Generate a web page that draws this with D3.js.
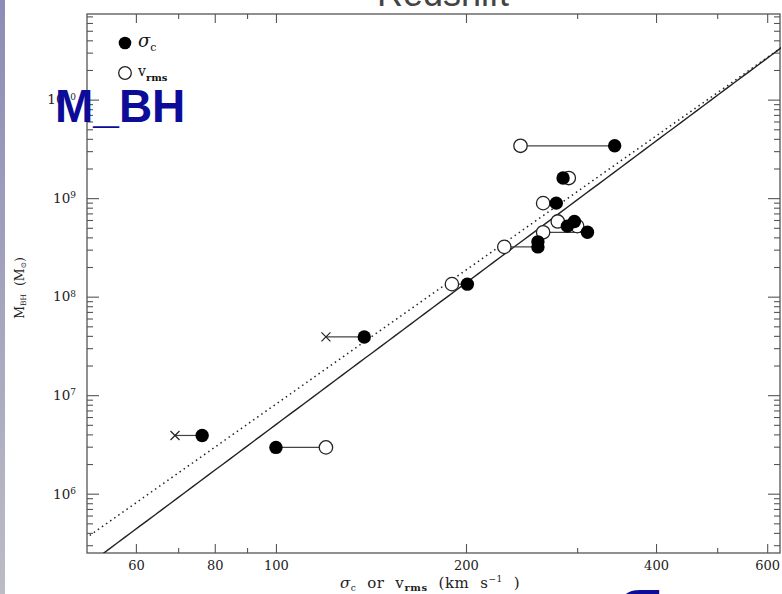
<!DOCTYPE html>
<html>
<head>
<meta charset="utf-8">
<script src="https://cdn.jsdelivr.net/npm/d3@7"></script>
<style>
  html, body { margin: 0; padding: 0; background: #fff; }
  svg { display: block; }
</style>
</head>
<body>
<svg id="chart" width="782" height="594"></svg>
<script>
// Black-hole mass versus central velocity dispersion (filled) and rms velocity (open)
const massBH   = [3.4e9, 1.6e9, 8.9e8, 5.8e8, 5.2e8, 4.5e8, 3.6e8, 3.2e8, 1.34e8, 3.9e7, 3.9e6, 2.95e6];
const sigmaC   = [344,   285,   278,   297,   289.5, 311.5, 260,   260,   201,    138,   76.4,  100];
const vRms     = [244,   291,   265,   279.5, 300,   265,   null,  230,   190,    null,  null,  120];
const vLimit   = [null,  null,  null,  null,  null,  null,  null,  null,  null,   120,   69.2,  null];

// Fitted relations: log M = a + b log(sigma / 200)
const fitIntercepts = [8.14, 8.27];
const fitSlopes     = [4.78, 4.52];
const fitDashes     = [null, "1.5,3.5"];

// Axis ticks
const xMajorTicks = [60, 80, 100, 200, 400, 600];
const xMinorTicks = [70, 90, 300, 500];
const yMajorTicks = [1e6, 1e7, 1e8, 1e9, 1e10];
const yMinorTicks = [3e5,4e5,5e5,6e5,7e5,8e5,9e5,
                     2e6,3e6,4e6,5e6,6e6,7e6,8e6,9e6,
                     2e7,3e7,4e7,5e7,6e7,7e7,8e7,9e7,
                     2e8,3e8,4e8,5e8,6e8,7e8,8e8,9e8,
                     2e9,3e9,4e9,5e9,6e9,7e9,8e9,9e9,
                     2e10,3e10,4e10,5e10,6e10,7e10];

const svg = d3.select("#chart");
const L = 87, R = 781, T = 14, B = 553;
const x = d3.scaleLog().domain([50.2, 631]).range([L, R]);
const y = d3.scaleLog().domain([2.5e5, 7.4e10]).range([B, T]);

// slide edge strip
const defs = svg.append("defs");
const grad = defs.append("linearGradient").attr("id", "strip").attr("x1", 0).attr("x2", 0).attr("y1", 0).attr("y2", 1);
grad.append("stop").attr("offset", "0%").attr("stop-color", "#8c8cb6");
grad.append("stop").attr("offset", "100%").attr("stop-color", "#bcbcc6");
svg.append("rect").attr("x", 0).attr("y", 0).attr("width", 5).attr("height", 594).attr("fill", "url(#strip)");

defs.append("clipPath").attr("id", "plotClip")
  .append("rect").attr("x", L).attr("y", T).attr("width", R - L).attr("height", B - T);

// heading, partly above the visible area
svg.append("text")
  .attr("x", 443).attr("y", 6)
  .attr("text-anchor", "middle")
  .attr("font-family", "Liberation Sans, Arial, sans-serif")
  .attr("font-size", 36)
  .attr("fill", "#444")
  .text("Redshift");

const axisColor = "#555";
const tickFont = "DejaVu Serif, serif";

function styleAxis(g) {
  g.select(".domain").remove();
  g.selectAll(".tick line").attr("stroke", axisColor).attr("stroke-width", 1.1);
}

// x axes: bottom (labelled) and top
svg.append("g").attr("transform", `translate(0,${B})`)
  .call(d3.axisBottom(x).tickValues(xMajorTicks).tickSize(-9).tickPadding(8).tickFormat(d3.format("d")))
  .call(styleAxis)
  .call(g => g.selectAll("text").attr("font-family", tickFont).attr("font-size", 13).attr("fill", "#222").attr("dy", "0.71em"));
svg.append("g").attr("transform", `translate(0,${B})`)
  .call(d3.axisBottom(x).tickValues(xMinorTicks).tickSize(-5).tickFormat(""))
  .call(styleAxis);
svg.append("g").attr("transform", `translate(0,${T})`)
  .call(d3.axisTop(x).tickValues(xMajorTicks).tickSize(-9).tickFormat(""))
  .call(styleAxis);
svg.append("g").attr("transform", `translate(0,${T})`)
  .call(d3.axisTop(x).tickValues(xMinorTicks).tickSize(-5).tickFormat(""))
  .call(styleAxis);

// y axes: left (labelled) and right
const yLeft = svg.append("g").attr("transform", `translate(${L},0)`)
  .call(d3.axisLeft(y).tickValues(yMajorTicks).tickSize(-12).tickPadding(11).tickFormat(""))
  .call(styleAxis);
yLeft.selectAll(".tick text").each(function(d) {
  const t = d3.select(this)
    .attr("font-family", tickFont).attr("font-size", 13.5).attr("fill", "#222")
    .attr("dy", "0.32em");
  t.append("tspan").text("10");
  t.append("tspan").attr("font-size", 9).attr("dy", "-0.55em").text(Math.round(Math.log10(d)));
});
svg.append("g").attr("transform", `translate(${L},0)`)
  .call(d3.axisLeft(y).tickValues(yMinorTicks).tickSize(-6).tickFormat(""))
  .call(styleAxis);
svg.append("g").attr("transform", `translate(${R - 1},0)`)
  .call(d3.axisRight(y).tickValues(yMajorTicks).tickSize(-12).tickFormat(""))
  .call(styleAxis);
svg.append("g").attr("transform", `translate(${R - 1},0)`)
  .call(d3.axisRight(y).tickValues(yMinorTicks).tickSize(-6).tickFormat(""))
  .call(styleAxis);

// frame
svg.append("rect").attr("x", L).attr("y", T).attr("width", R - 1 - L).attr("height", B - T)
  .attr("fill", "none").attr("stroke", axisColor).attr("stroke-width", 1.3);

// fitted relations
const plot = svg.append("g").attr("clip-path", "url(#plotClip)");
const sigGrid = d3.range(0, 101).map(i => 45 * Math.pow(700 / 45, i / 100));
fitIntercepts.forEach((a, i) => {
  const b = fitSlopes[i];
  const line = d3.line()
    .x(s => x(s))
    .y(s => y(Math.pow(10, a + b * Math.log10(s / 200))));
  plot.append("path")
    .datum(sigGrid)
    .attr("d", line)
    .attr("fill", "none")
    .attr("stroke", "#222")
    .attr("stroke-width", i === 0 ? 1.4 : 1.5)
    .attr("stroke-dasharray", fitDashes[i]);
});

const idx = d3.range(massBH.length);

// connectors between the two estimates of each object
idx.forEach(i => {
  const other = vRms[i] != null ? vRms[i] : vLimit[i];
  if (other == null) return;
  plot.append("line")
    .attr("x1", x(sigmaC[i])).attr("x2", x(other))
    .attr("y1", y(massBH[i])).attr("y2", y(massBH[i]))
    .attr("stroke", "#444").attr("stroke-width", 1.2);
});

// upper limits on rms velocity
idx.filter(i => vLimit[i] != null).forEach(i => {
  const cx = x(vLimit[i]), cy = y(massBH[i]), h = 4.5;
  plot.append("path")
    .attr("d", `M${cx - h},${cy - h}L${cx + h},${cy + h}M${cx - h},${cy + h}L${cx + h},${cy - h}`)
    .attr("stroke", "#222").attr("stroke-width", 1.2).attr("fill", "none");
});

const rad = 6.7;
// rms velocities (open)
plot.selectAll("circle.vrms")
  .data(idx.filter(i => vRms[i] != null))
  .join("circle")
  .attr("class", "vrms")
  .attr("cx", i => x(vRms[i])).attr("cy", i => y(massBH[i])).attr("r", rad)
  .attr("fill", "#fff").attr("stroke", "#222").attr("stroke-width", 1.3);

// central dispersions (filled)
plot.selectAll("circle.sig")
  .data(idx)
  .join("circle")
  .attr("class", "sig")
  .attr("cx", i => x(sigmaC[i])).attr("cy", i => y(massBH[i])).attr("r", rad)
  .attr("fill", "#000");

// legend
svg.append("circle").attr("cx", 125).attr("cy", 43).attr("r", 6.3).attr("fill", "#000");
svg.append("circle").attr("cx", 125).attr("cy", 73).attr("r", 6.3).attr("fill", "#fff").attr("stroke", "#222").attr("stroke-width", 1.3);
const lg1 = svg.append("text").attr("x", 138).attr("y", 47).attr("font-family", tickFont).attr("fill", "#111");
lg1.append("tspan").attr("font-size", 18).attr("font-style", "italic").text("σ");
lg1.append("tspan").attr("font-size", 11).attr("dy", 4).text("c");
const lg2 = svg.append("text").attr("x", 138).attr("y", 76).attr("font-family", tickFont).attr("fill", "#111");
lg2.append("tspan").attr("font-size", 14).text("v");
lg2.append("tspan").attr("font-size", 10).attr("font-weight", "bold").attr("dy", 5).text("rms");

// axis titles
const xt = svg.append("text").attr("x", 340).attr("y", 588)
  .attr("font-family", tickFont).attr("font-size", 15).attr("letter-spacing", 0.6).attr("fill", "#222");
xt.append("tspan").attr("font-style", "italic").text("σ");
xt.append("tspan").attr("font-size", 9).attr("dy", 3).text("c");
xt.append("tspan").attr("dy", -3).attr("xml:space", "preserve").text("  or  v");
xt.append("tspan").attr("font-size", 10).attr("font-weight", "bold").attr("dy", 3).text("rms");
xt.append("tspan").attr("dy", -3).attr("xml:space", "preserve").text("  (km  s");
xt.append("tspan").attr("font-size", 9).attr("dy", -6).text("−1");
xt.append("tspan").attr("dy", 6).attr("xml:space", "preserve").text("  )");

const yt = svg.append("text")
  .attr("transform", "translate(24,288) rotate(-90)")
  .attr("text-anchor", "middle")
  .attr("font-family", tickFont).attr("font-size", 12.5).attr("fill", "#222");
yt.append("tspan").text("M");
yt.append("tspan").attr("font-size", 7.5).attr("dy", 2).text("BH");
yt.append("tspan").attr("dy", -2).attr("xml:space", "preserve").text("  (M");
yt.append("tspan").attr("font-size", 7.5).attr("dy", 2).text("⊙");
yt.append("tspan").attr("dy", -2).text(")");

// slide captions
svg.append("text").attr("x", 55).attr("y", 122)
  .attr("font-family", "Liberation Sans, Arial, sans-serif").attr("font-weight", "bold")
  .attr("font-size", 46).attr("fill", "#0c0c99")
  .text("M_BH");
svg.append("text").attr("x", 618).attr("y", 622)
  .attr("font-family", "Liberation Sans, Arial, sans-serif").attr("font-weight", "bold")
  .attr("font-size", 62).attr("fill", "#0c0c99")
  .text("σ");
</script>
</body>
</html>
